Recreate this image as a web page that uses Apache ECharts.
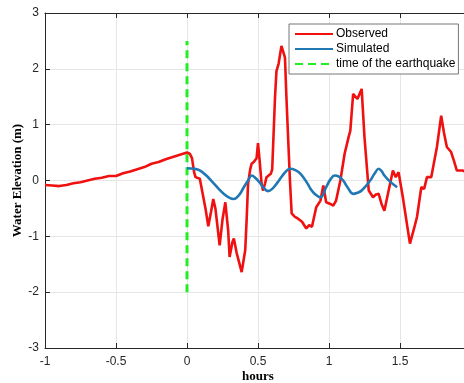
<!DOCTYPE html>
<html>
<head>
<meta charset="utf-8">
<script src="https://cdn.jsdelivr.net/npm/echarts@6/dist/echarts.min.js"></script>
<style>
  html, body { margin: 0; padding: 0; background: #fff; }
  #chart { width: 464px; height: 383px; }
</style>
</head>
<body>
<div id="chart"></div>
<script>
// tick labels
const xTicks = [-1, -0.5, 0, 0.5, 1, 1.5, 2]
const yTicks = [-3, -2, -1, 0, 1, 2, 3]

// observed record (hours, metres)
const obsHours = [-1.00, -0.95, -0.90, -0.85, -0.80, -0.75, -0.70, -0.65, -0.60, -0.55, -0.50, -0.45, -0.40, -0.35, -0.30, -0.25, -0.20, -0.15, -0.10, -0.05,
  0.00, 0.02, 0.035, 0.05, 0.06, 0.09, 0.10, 0.115, 0.13, 0.15, 0.17, 0.185, 0.20, 0.23, 0.25, 0.27, 0.29, 0.30, 0.32, 0.33, 0.35, 0.385, 0.41, 0.42, 0.43, 0.445, 0.455, 0.47, 0.49,
  0.50, 0.51, 0.525, 0.535, 0.55, 0.56, 0.59, 0.60, 0.62, 0.63, 0.645, 0.665, 0.69, 0.70, 0.71, 0.725, 0.737, 0.76, 0.78, 0.81, 0.84, 0.86, 0.88, 0.91, 0.94, 0.96, 0.98,
  1.01, 1.03, 1.05, 1.08, 1.11, 1.14, 1.15, 1.17, 1.20, 1.23, 1.25, 1.28, 1.31, 1.33, 1.35, 1.37, 1.39, 1.42, 1.45, 1.47, 1.49,
  1.50, 1.52, 1.55, 1.57, 1.60, 1.62, 1.65, 1.67, 1.69, 1.72, 1.76, 1.79, 1.81, 1.83, 1.86, 1.88, 1.90, 1.94, 1.97]
const obsLevel = [-0.08, -0.09, -0.10, -0.08, -0.05, -0.03, 0.00, 0.03, 0.05, 0.08, 0.08, 0.13, 0.16, 0.20, 0.24, 0.30, 0.33, 0.38, 0.42, 0.46,
  0.50, 0.48, 0.40, 0.15, 0.06, 0.03, -0.10, -0.30, -0.50, -0.82, -0.55, -0.33, -0.50, -1.16, -0.70, -0.39, -0.90, -1.37, -1.10, -1.04, -1.30, -1.64, -1.25, -0.70, -0.06, 0.20, 0.30, 0.33, 0.40,
  0.67, 0.40, -0.05, -0.18, -0.05, 0.06, 0.12, 0.20, 1.50, 1.96, 2.09, 2.41, 2.20, 1.50, 0.89, 0.00, -0.59, -0.65, -0.68, -0.74, -0.86, -0.80, -0.83, -0.48, -0.36, -0.09, -0.39,
  -0.42, -0.45, -0.36, 0.00, 0.48, 0.80, 0.89, 1.55, 1.46, 1.64, 0.77, -0.18, -0.30, -0.25, -0.24, -0.42, -0.54, -0.18, 0.18, 0.06, 0.15,
  0.18, -0.30, -0.80, -1.13, -0.85, -0.65, -0.12, -0.15, 0.06, 0.06, 0.60, 1.16, 0.85, 0.60, 0.51, 0.35, 0.18, 0.18, 0.15]

// simulated record
const simHours = [0.00, 0.05, 0.09, 0.14, 0.18, 0.22, 0.26, 0.30, 0.33, 0.37, 0.40, 0.43, 0.455, 0.48, 0.51, 0.54, 0.57, 0.60, 0.63, 0.67, 0.70, 0.725,
  0.76, 0.80, 0.85, 0.87, 0.90, 0.94, 0.98, 1.01, 1.04, 1.07, 1.10, 1.13, 1.17, 1.20, 1.23, 1.29, 1.32, 1.35, 1.37, 1.39, 1.43, 1.48]
const simLevel = [0.22, 0.21, 0.18, 0.08, -0.03, -0.14, -0.24, -0.31, -0.33, -0.25, -0.12, 0.00, 0.09, 0.05, -0.03, -0.13, -0.19, -0.15, -0.06, 0.08, 0.17, 0.21,
  0.19, 0.12, -0.06, -0.15, -0.24, -0.30, -0.12, 0.02, 0.09, 0.07, 0.00, -0.12, -0.24, -0.22, -0.18, 0.00, 0.12, 0.21, 0.17, 0.09, -0.02, -0.12]

// earthquake marker
const quakeHours = [0, 0]
const quakeLevel = [-2, 2.5]

const zip = (xs, ys) => xs.map((x, i) => [x, ys[i]])

const axisColor = '#262626'
const gridColor = '#e6e6e6'
const nameFont = { fontFamily: 'Liberation Serif', fontWeight: 'bold', fontSize: 13, color: '#000' }

const chart = echarts.init(document.getElementById('chart'))
chart.setOption({
  animation: false,
  backgroundColor: '#fff',
  grid: { left: 45, right: -7, top: 13, bottom: 35, show: false, containLabel: false, outerBoundsMode: 'none' },
  legend: {
    orient: 'vertical',
    left: 289, top: 24,
    padding: [4, 3, 4, 5],
    itemGap: 3,
    itemWidth: 38, itemHeight: 12,
    backgroundColor: '#fff',
    borderColor: '#777', borderWidth: 1, borderRadius: 0,
    itemStyle: { opacity: 0 },
    textStyle: { fontFamily: 'Liberation Sans', fontSize: 12, color: '#000', padding: [0, 0, 0, -2] },
    data: ['Observed', 'Simulated', 'time of the earthquake']
  },
  xAxis: [{
    type: 'value',
    min: xTicks[0], max: xTicks[xTicks.length - 1], interval: 0.5,
    name: 'hours', nameLocation: 'middle', nameGap: 22, nameMoveOverlap: false,
    nameTextStyle: nameFont,
    axisLine: { show: true, onZero: false, lineStyle: { color: axisColor } },
    axisTick: { show: true, inside: true, length: 5, lineStyle: { color: axisColor } },
    axisLabel: { color: axisColor, fontFamily: 'Liberation Sans', fontSize: 12, margin: 8 },
    splitLine: { show: true, lineStyle: { color: gridColor } }
  }, {
    type: 'value', position: 'top',
    min: xTicks[0], max: xTicks[xTicks.length - 1], interval: 0.5,
    axisLine: { show: true, onZero: false, lineStyle: { color: axisColor } },
    axisTick: { show: true, inside: true, length: 5, lineStyle: { color: axisColor } },
    axisLabel: { show: false },
    splitLine: { show: false }
  }],
  yAxis: {
    type: 'value',
    min: yTicks[0], max: yTicks[yTicks.length - 1], interval: 1,
    name: 'Water Elevation (m)', nameLocation: 'middle', nameGap: 21, nameMoveOverlap: false,
    nameTextStyle: nameFont,
    axisLine: { show: true, onZero: false, lineStyle: { color: axisColor } },
    axisTick: { show: true, inside: true, length: 5, lineStyle: { color: axisColor } },
    axisLabel: { color: axisColor, fontFamily: 'Liberation Sans', fontSize: 12, margin: 6 },
    splitLine: { show: true, lineStyle: { color: gridColor } }
  },
  series: [{
    name: 'Observed',
    type: 'line',
    data: zip(obsHours, obsLevel),
    showSymbol: false, symbol: 'none',
    color: '#f01010',
    lineStyle: { width: 2.6, color: '#f01010' },
    z: 3
  }, {
    name: 'Simulated',
    type: 'line',
    data: zip(simHours, simLevel),
    smooth: 0.4,
    showSymbol: false, symbol: 'none',
    color: '#1f77b4',
    lineStyle: { width: 2.6, color: '#1f77b4' },
    z: 4
  }, {
    name: 'time of the earthquake',
    type: 'line',
    data: zip(quakeHours, quakeLevel),
    showSymbol: false, symbol: 'none',
    color: '#22ee22',
    lineStyle: { width: 3, color: '#22ee22', type: [8, 5] },
    z: 2
  }]
})
</script>
</body>
</html>
